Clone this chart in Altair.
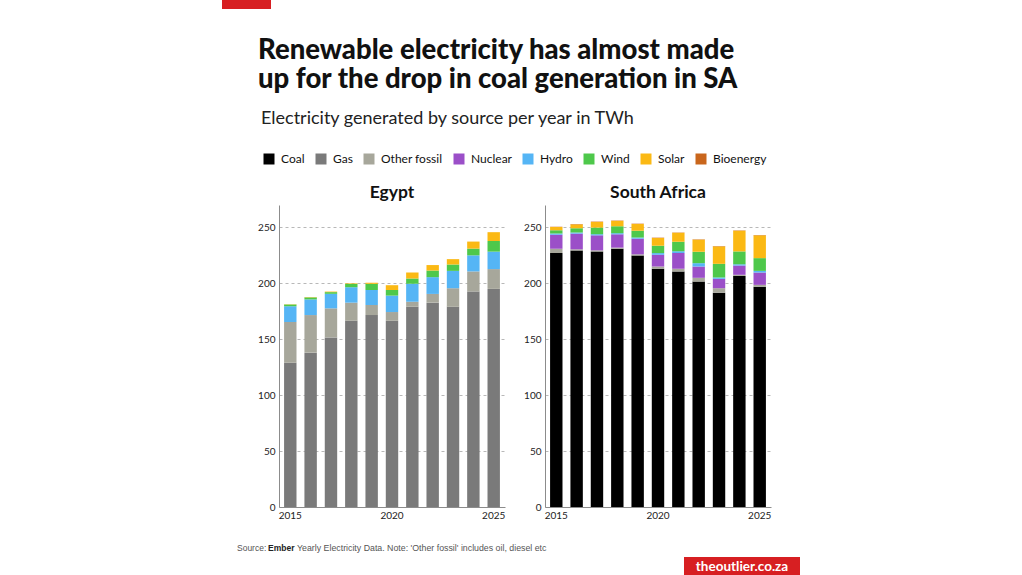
import altair as alt
import pandas as pd

years = [2015, 2016, 2017, 2018, 2019, 2020, 2021, 2022, 2023, 2024, 2025]
sources = ["Coal", "Gas", "Other fossil", "Nuclear", "Hydro", "Wind", "Solar", "Bioenergy"]
colors = ["#000000", "#7a7a7a", "#a7a79b", "#9b4fc8", "#55b5f5", "#4ec84b", "#fbb914", "#c9661c"]

# Egypt (TWh)
egypt_gas = [129, 138, 151.6, 166.5, 171.6, 166.5, 179, 182.7, 179, 192.6, 195]
egypt_other = [36.5, 33.6, 26, 16.2, 9, 7.8, 4.6, 7.8, 16.6, 18, 17.7]
egypt_hydro = [14, 14, 13, 13.8, 13.4, 14.7, 15.9, 15, 15.5, 14.4, 15.6]
egypt_wind = [1.5, 1.8, 1.5, 3, 5.5, 5, 4.8, 5.9, 5.7, 6, 9.5]
egypt_solar = [0.3, 0.3, 0.5, 0.5, 1, 4.3, 5.3, 4.9, 4.8, 6.3, 7.9]

# South Africa (TWh)
sa_coal = [227, 229.4, 228.5, 230.9, 224.9, 213, 210.5, 201.5, 191.6, 206.6, 197]
sa_other = [3.9, 1, 1, 1, 1, 2, 2.5, 3.4, 4, 1, 1.6]
sa_nuclear = [12.6, 14, 13.4, 11.9, 14, 10.5, 14, 10.1, 8.4, 8.3, 11]
sa_hydro = [1, 1, 1, 1, 1, 1.5, 1.7, 3, 1.2, 1.1, 1.5]
sa_wind = [3, 3.8, 5.9, 6.2, 6.1, 6.6, 8.5, 10.2, 12.2, 11.5, 11.4]
sa_solar = [2.8, 3.5, 5.1, 4.8, 6, 6.9, 8, 10.8, 15.6, 18.5, 20.4]
sa_bio = [0.3, 0.3, 0.3, 0.3, 0.3, 0.3, 0.3, 0.3, 0.3, 0.3, 0.3]

y_ticks = [0, 50, 100, 150, 200, 250]
x_ticks = [2015, 2020, 2025]

title_lines = ["Renewable electricity has almost made", "up for the drop in coal generation in SA"]

FONT = "Lato, Roboto, sans-serif"
NOTE_FONT = "Liberation Sans, Arial, sans-serif"


def build(series):
    rows = []
    for si, s in enumerate(sources):
        vals = series.get(s)
        if vals is None:
            continue
        for yr, v in zip(years, vals):
            if v > 0:
                rows.append({"year": yr, "source": s, "value": v, "order": si})
    return pd.DataFrame(rows)


egypt_df = build({"Gas": egypt_gas, "Other fossil": egypt_other, "Hydro": egypt_hydro,
                  "Wind": egypt_wind, "Solar": egypt_solar})
sa_df = build({"Coal": sa_coal, "Other fossil": sa_other, "Nuclear": sa_nuclear,
               "Hydro": sa_hydro, "Wind": sa_wind, "Solar": sa_solar, "Bioenergy": sa_bio})

legend = alt.Legend(
    title=None, orient="none", legendX=-16, legendY=-52, direction="horizontal", columns=8,
    symbolType="square", symbolSize=121, symbolStrokeWidth=0, labelFont=FONT,
    labelFontSize=12, labelColor="#111", labelOffset=6, columnPadding=10, padding=0,
)


def bars(df):
    return alt.Chart(df).mark_bar().encode(
        x=alt.X("year:O", title=None,
                scale=alt.Scale(paddingInner=0.39, paddingOuter=0.25),
                axis=alt.Axis(values=x_ticks, labelAngle=0, ticks=False, grid=False,
                              domainColor="#8c8c8c", labelFont=FONT, labelFontSize=10,
                              labelColor="#222", labelPadding=3)),
        y=alt.Y("value:Q", title=None, stack="zero",
                scale=alt.Scale(domain=[0, 270], nice=False),
                axis=alt.Axis(values=y_ticks, ticks=False, grid=True, gridDash=[3, 3],
                              gridColor="#b8b8b8", domainColor="#8c8c8c", labelFont=FONT,
                              labelFontSize=10, labelColor="#222", labelPadding=4)),
        color=alt.Color("source:N", scale=alt.Scale(domain=sources, range=colors), legend=legend),
        order=alt.Order("order:Q", sort="ascending"),
    )


dummy = pd.DataFrame({"a": [0]})


def label(text, x, y, size, weight="normal", color="#111", align="left", font=FONT, line_height=None):
    kw = dict(align=align, baseline="alphabetic", font=font, fontSize=size, fontWeight=weight, color=color)
    if line_height is not None:
        kw["lineHeight"] = line_height
    return alt.Chart(dummy).mark_text(**kw).encode(
        x=alt.value(x), y=alt.value(y), text=alt.value(text))


def box(x1, x2, y1, y2, color):
    return alt.Chart(dummy).mark_rect(color=color).encode(
        x=alt.value(x1), x2=alt.value(x2), y=alt.value(y1), y2=alt.value(y2))


RED = "#d71f22"
W, H = 226, 302

egypt = alt.layer(
    bars(egypt_df),
    label("Egypt", W / 2, -7, 17.5, "bold", align="center"),
    box(-57, -8, -205, -196, RED),
    label(title_lines, -21, -146, 27.5, 900, line_height=29),
    label("Electricity generated by source per year in TWh", -18, -81, 18, color="#222"),
    label("Source:", -42, 346, 8.5, color="#555", font=NOTE_FONT),
    label("Ember", -11, 346, 8.5, "bold", color="#222", font=NOTE_FONT),
    label("Yearly Electricity Data. Note: 'Other fossil' includes oil, diesel etc", 18, 346, 8.8,
          color="#555", font=NOTE_FONT),
    box(405, 521, 352, 370, RED),
    label("theoutlier.co.za", 463, 366, 13.5, "bold", color="#ffffff", align="center"),
).properties(width=W, height=H)

sa = alt.layer(
    bars(sa_df),
    label("South Africa", W / 2, -7, 17.5, "bold", align="center"),
).properties(width=W, height=H)

chart = alt.hconcat(egypt, sa, spacing=40, bounds="flush").properties(
    padding={"left": 222, "top": 0, "right": 0, "bottom": 0},
    background="#ffffff",
).configure_view(stroke=None)

chart.save("out.html", embed_options={"renderer": "svg", "actions": False})
